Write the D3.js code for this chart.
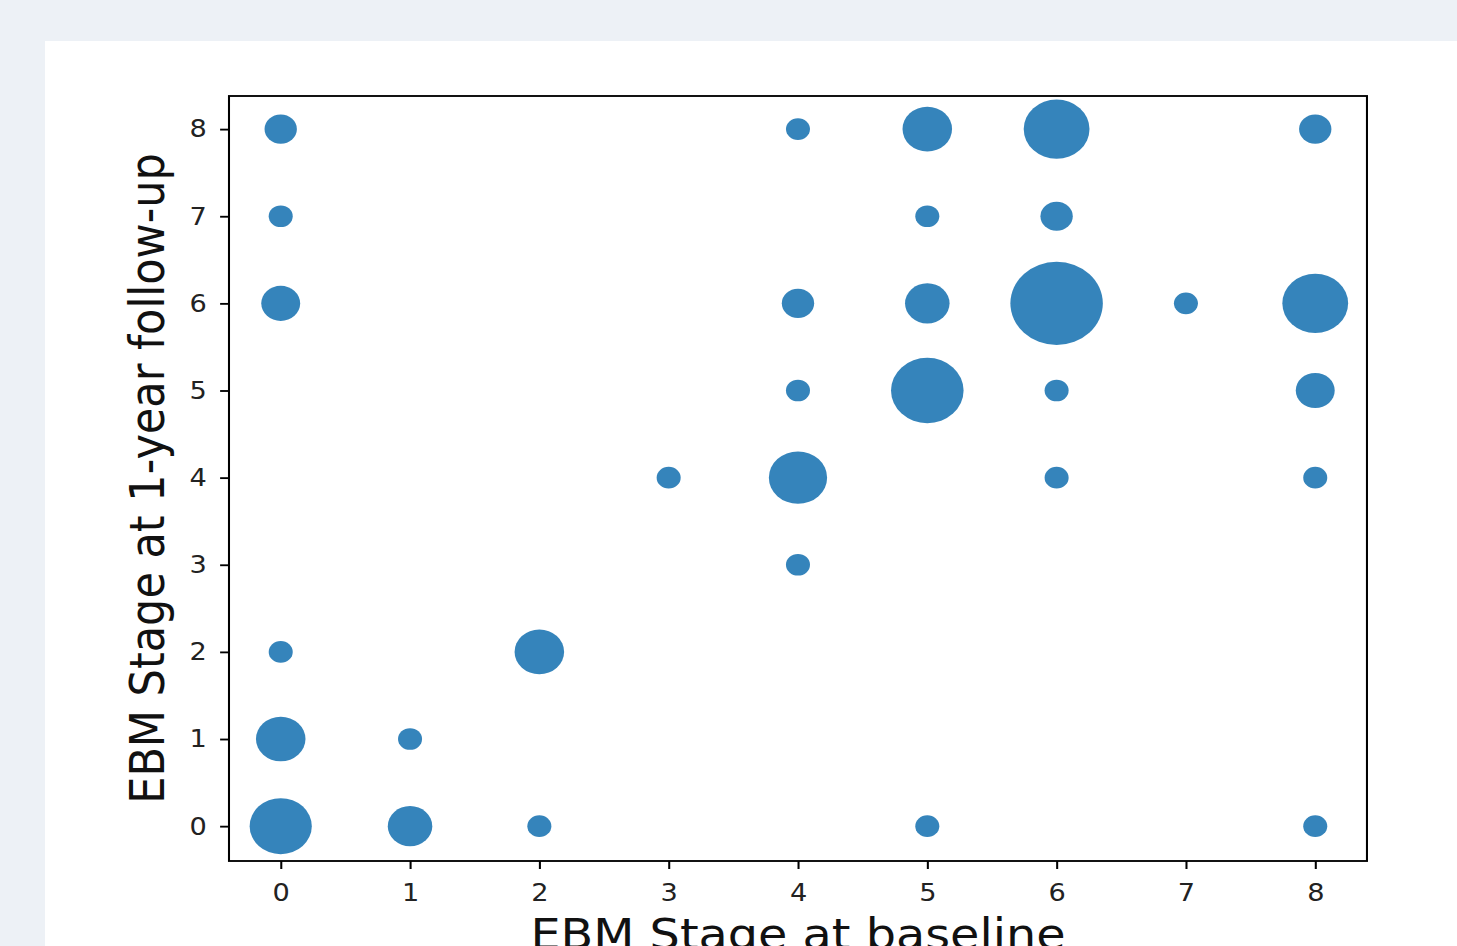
<!DOCTYPE html>
<html>
<head>
<meta charset="utf-8">
<script src="https://cdn.jsdelivr.net/npm/d3@7"></script>
<style>
  html, body { margin: 0; padding: 0; background: #edf1f6; }
  svg { display: block; }
</style>
</head>
<body>
<svg id="chart" width="1457" height="946"></svg>
<script>
// ---- data ----
const baseline = [0,0,0,0,0,0, 1,1, 2,2, 3, 4,4,4,4,4, 5,5,5,5,5, 6,6,6,6,6, 7, 8,8,8,8,8];
const followup = [0,1,2,6,7,8, 0,1, 0,2, 4, 3,4,5,6,8, 0,5,6,7,8, 4,5,6,7,8, 6, 0,4,5,6,8];
const counts   = [8,5,1,3,1,2, 4,1, 1,5, 1, 1,7,1,2,1, 1,11,4,1,5, 1,1,18,2,9, 1, 1,1,3,9,2];
const xTicks = [0,1,2,3,4,5,6,7,8];
const yTicks = [0,1,2,3,4,5,6,7,8];
const xLabel = "EBM Stage at baseline";
const yLabel = "EBM Stage at 1-year follow-up";

// ---- layout ----
const W = 1457, H = 946;
const SX = 1.11;                      // horizontal stretch of the original picture
const plot = { left: 206.3, right: 1231.5, top: 96, bottom: 861 };  // in unstretched units
const font = "DejaVu Sans, Liberation Sans, sans-serif";

const svg = d3.select("#chart");
svg.append("rect").attr("x", 0).attr("y", 0).attr("width", W).attr("height", H).attr("fill", "#edf1f6");
svg.append("rect").attr("x", 45).attr("y", 41).attr("width", W - 45).attr("height", H - 41).attr("fill", "#ffffff");

const g = svg.append("g").attr("transform", `scale(${SX},1)`);

const x = d3.scaleLinear().domain([-0.4, 8.4]).range([plot.left, plot.right]);
const y = d3.scaleLinear().domain([-0.4, 8.38]).range([plot.bottom, plot.top]);
// marker area grows linearly with the count
const area = d3.scaleLinear().domain([0, 18]).range([22, 1735]);

const pts = baseline.map((b, i) => ({ b, f: followup[i], n: counts[i] }));

g.append("g").selectAll("circle").data(pts).join("circle")
  .attr("cx", d => x(d.b))
  .attr("cy", d => y(d.f))
  .attr("r", d => Math.sqrt(area(d.n)))
  .attr("fill", "#1f77b4")
  .attr("fill-opacity", 0.9);

// axes
const xAxis = g.append("g").attr("transform", `translate(0,${plot.bottom})`)
  .call(d3.axisBottom(x).tickValues(xTicks).tickFormat(d3.format("d")).tickSize(8).tickPadding(15));
const yAxis = g.append("g").attr("transform", `translate(${plot.left},0)`)
  .call(d3.axisLeft(y).tickValues(yTicks).tickFormat(d3.format("d")).tickSize(8).tickPadding(12));
[xAxis, yAxis].forEach(a => {
  a.select(".domain").remove();
  a.selectAll(".tick line").attr("stroke", "#000").attr("stroke-width", 1.85);
  a.selectAll(".tick text").attr("fill", "#222").style("font-family", font).style("font-size", "24.5px");
});

// frame
g.append("rect")
  .attr("x", plot.left).attr("y", plot.top)
  .attr("width", plot.right - plot.left).attr("height", plot.bottom - plot.top)
  .attr("fill", "none").attr("stroke", "#000").attr("stroke-width", 1.85);

// axis labels
g.append("text")
  .attr("x", (plot.left + plot.right) / 2).attr("y", 949)
  .attr("text-anchor", "middle")
  .style("font-family", font).style("font-size", "43px").attr("fill", "#111")
  .text(xLabel);

g.append("text")
  .attr("transform", `translate(147.5,${(plot.top + plot.bottom) / 2}) rotate(-90)`)
  .attr("text-anchor", "middle")
  .style("font-family", font).style("font-size", "43px").attr("fill", "#111")
  .text(yLabel);
</script>
</body>
</html>
